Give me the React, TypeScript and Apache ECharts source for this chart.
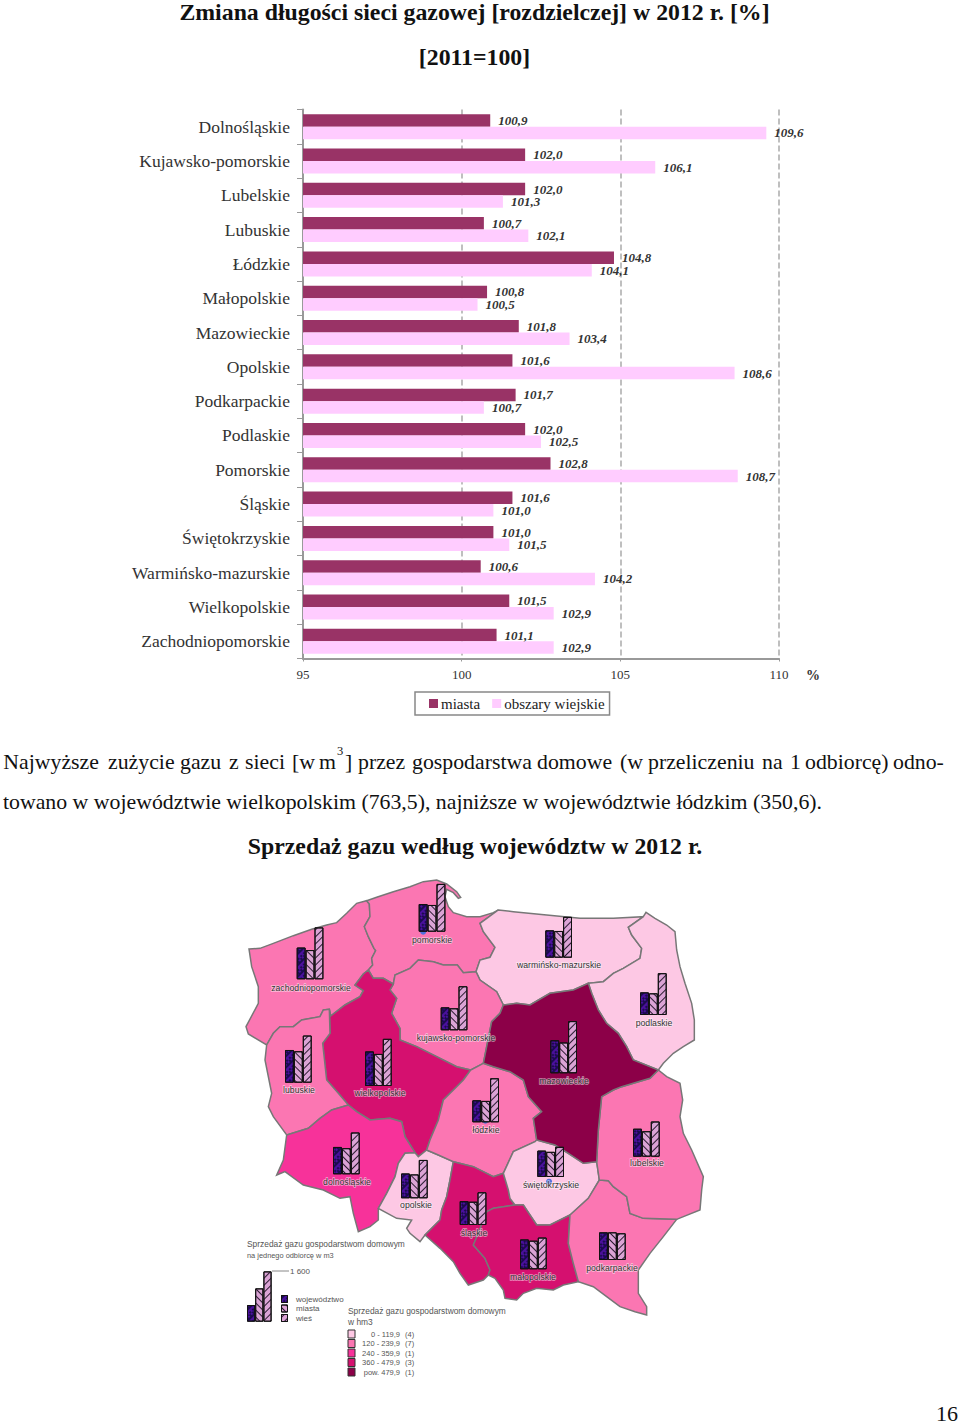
import React, { useEffect, useRef } from "react";
import * as echarts from "echarts";

const SERIF = '"Liberation Serif", serif';
const SANS = '"Liberation Sans", sans-serif';

// ---------- top bar chart ----------
const voivodeships = ["Dolnośląskie","Kujawsko-pomorskie","Lubelskie","Lubuskie","Łódzkie","Małopolskie","Mazowieckie","Opolskie","Podkarpackie","Podlaskie","Pomorskie","Śląskie","Świętokrzyskie","Warmińsko-mazurskie","Wielkopolskie","Zachodniopomorskie"];
const miasta = [100.9,102.0,102.0,100.7,104.8,100.8,101.8,101.6,101.7,102.0,102.8,101.6,101.0,100.6,101.5,101.1];
const wies = [109.6,106.1,101.3,102.1,104.1,100.5,103.4,108.6,100.7,102.5,108.7,101.0,101.5,104.2,102.9,102.9];

// ---------- justified first line of the paragraph ----------
const lineOneWords = ["Najwyższe","zużycie","gazu","z","sieci","[w","m","]","przez","gospodarstwa","domowe","(w","przeliczeniu","na","1","odbiorcę)","odno-"];
const lineOneX = [3.3,108,180,229,245,292,319,345,358,412,537,620,648,762,790,805,893];

// ---------- map: class of gas sales in hm3 (index into classColors) ----------
const classColors = ["#fdc8e4","#fb76b2","#f7329a","#d5106f","#8c0048"];
const classLabels = ["0 - 119,9","120 - 239,9","240 - 359,9","360 - 479,9","pow. 479,9"];
const classCounts = ["(4)","(7)","(1)","(3)","(1)"];
const regionClass: Record<string, number> = {
  "zachodniopomorskie":1,"pomorskie":1,"warmińsko-mazurskie":0,"podlaskie":0,"kujawsko-pomorskie":1,"lubuskie":1,"wielkopolskie":3,"mazowieckie":4,"łódzkie":1,"lubelskie":1,"dolnośląskie":2,"świętokrzyskie":0,"opolskie":0,"śląskie":3,"małopolskie":3,"podkarpackie":1,
};

// mini bars, m3 per customer: [województwo, miasta, wieś]
const miniNames = ["zachodniopomorskie","pomorskie","warmińsko-mazurskie","podlaskie","kujawsko-pomorskie","lubuskie","wielkopolskie","mazowieckie","łódzkie","lubelskie","dolnośląskie","świętokrzyskie","opolskie","śląskie","małopolskie","podkarpackie"];
const miniWoj = [1010,880,870,720,730,1040,1100,1050,700,890,870,840,790,760,950,880];
const miniMiasta = [930,850,850,690,700,1000,1020,980,680,810,830,800,760,740,910,880];
const miniWies = [1650,1520,1300,1330,1400,1500,1500,1660,1400,1120,1330,960,1220,1040,1010,850];
const keyValues = [530,1060,1600];

// page position of each mini chart: [left, baseline]
const miniAnchors = [[296.7,979.3],[418.7,931.7],[545.3,957.7],[640,1015],[440.7,1030.3],[285,1082.7],[365,1086],[550.3,1073.3],[472.3,1122.3],[633,1156.7],[333,1174.3],[537.3,1177],[401,1198.3],[459.7,1225],[520,1269.3],[599,1260]];
// page position of each region name: [centre x, centre y]
const labelAnchors = [[311,988],[432,940],[559,965],[654,1023],[456,1038],[299,1090],[380,1093],[564,1081],[486,1130],[647,1163],[347,1182],[551,1185],[416,1205],[474,1233],[533,1277],[612,1268]];

// ---------- map borders, traced (in units of 1/3 px from the map's corner) ----------
type P = number[];
const coastZ: P[] = [[57,237],[90,235],[130,220],[190,197],[245,178],[290,165],[320,158],[350,130],[380,100],[410,92]];
const zpEast: P[] = [[410,92],[418,102],[420,140],[403,170],[415,200],[432,235],[437,242],[425,265],[428,285],[415,300]];
const zWlkp: P[] = [[415,300],[400,312],[375,345],[400,362],[390,380],[345,405],[302,438],[298,418]];
const zLub: P[] = [[298,418],[280,420],[270,440],[215,450],[190,470],[150,470],[130,490],[110,525]];
const zWest: P[] = [[110,525],[55,492],[48,470],[85,400],[85,350],[65,290],[57,237]];
const coastP: P[] = [[410,92],[440,82],[490,65],[540,50],[580,35],[620,30],[650,42],[680,65],[692,82],[685,85],[670,68],[650,58],[645,80],[655,110],[670,128],[710,140],[750,140],[790,128],[805,120]];
const pomWarm: P[] = [[805,120],[750,160],[760,185],[795,232],[780,262],[750,270],[738,305]];
const pomKP: P[] = [[738,305],[700,308],[682,285],[640,285],[610,275],[565,270],[540,295],[495,315],[490,342]];
const pomWlkp: P[] = [[490,342],[460,325],[430,325],[415,300]];
const kpWarm: P[] = [[738,305],[750,330],[800,365],[820,405]];
const kpMaz: P[] = [[820,405],[810,430],[785,455],[770,530],[760,580]];
const kpLodz: P[] = [[760,580],[722,600]];
const kpWlkp: P[] = [[722,600],[680,590],[620,560],[560,530],[510,510],[510,475],[485,430],[500,385],[480,360],[490,342]];
const coastW: P[] = [[805,120],[850,125],[950,135],[1050,145],[1150,145],[1240,140]];
const warmPodl: P[] = [[1240,140],[1195,172],[1205,195],[1235,235],[1230,265],[1180,295],[1150,310],[1120,335],[1075,340]];
const warmMaz: P[] = [[1075,340],[1030,360],[960,370],[900,405],[860,400],[820,405]];
const podlOut: P[] = [[1240,140],[1248,127],[1275,145],[1310,165],[1335,185],[1340,240],[1350,290],[1365,340],[1385,400],[1393,450],[1393,510],[1360,530],[1330,550],[1300,580],[1285,600]];
const podlMaz: P[] = [[1285,600],[1210,570],[1190,530],[1165,490],[1130,460],[1105,420],[1085,370],[1075,340]];
const mazLub: P[] = [[1285,600],[1260,625],[1210,640],[1175,650],[1150,660],[1115,680],[1110,730],[1105,780],[1100,875]];
const mazSwi: P[] = [[1100,875],[1060,880],[1015,850],[975,825],[920,810]];
const mazLodz: P[] = [[920,810],[910,745],[935,725],[895,680],[880,630],[840,605],[790,590],[760,580]];
const lubOut: P[] = [[1285,600],[1310,620],[1350,640],[1358,690],[1350,740],[1360,790],[1385,840],[1420,920],[1415,960],[1410,1020],[1340,1048]];
const lubPodk: P[] = [[1340,1048],[1240,1045],[1200,1030],[1190,980],[1150,950],[1135,932],[1108,930]];
const lubSwi: P[] = [[1108,930],[1100,875]];
const swiPodk: P[] = [[1108,930],[1075,985],[1020,1035]];
const swiMal: P[] = [[1020,1035],[960,1065],[920,1065],[880,1005],[855,1005]];
const swiSl: P[] = [[855,1005],[840,985],[835,960],[820,910]];
const swiLodz: P[] = [[820,910],[850,845],[915,815],[920,810]];
const lodzSl: P[] = [[820,910],[790,920],[730,890],[670,875]];
const lodzOp: P[] = [[670,875],[625,855],[590,840]];
const lodzWlkp: P[] = [[590,840],[600,810],[625,750],[640,690],[680,650],[700,630],[722,600]];
const wlkpOp: P[] = [[590,840],[565,860],[555,848]];
const wlkpDol: P[] = [[555,848],[525,800],[515,755],[480,745],[420,750],[380,725],[355,705]];
const wlkpLub: P[] = [[355,705],[325,670],[290,630],[278,520],[300,490],[298,418]];
const lubDol: P[] = [[355,705],[305,720],[270,745],[235,775],[170,795]];
const lubWest: P[] = [[170,795],[130,740],[115,710],[125,670],[105,570],[110,525]];
const dolOut: P[] = [[170,795],[160,870],[140,915],[165,905],[220,945],[280,960],[330,985],[360,980],[370,1030],[385,1085],[420,1070],[445,1050],[445,1015]];
const dolOp: P[] = [[445,1015],[470,970],[495,920],[505,880],[525,850],[555,848]];
const opOut: P[] = [[445,1015],[500,1045],[545,1050],[530,1075],[540,1090],[570,1115],[585,1095]];
const opSl: P[] = [[585,1095],[630,1050],[635,1020],[650,980],[660,930],[670,875]];
const slOut: P[] = [[585,1095],[630,1135],[670,1175],[690,1210],[715,1245],[760,1230],[775,1215]];
const slMal: P[] = [[775,1215],[780,1200],[765,1165],[730,1125],[745,1090],[770,1025],[790,1015],[855,1005]];
const malOut: P[] = [[775,1215],[795,1225],[820,1260],[825,1285],[860,1290],[880,1270],[920,1255],[970,1260],[1000,1245],[1045,1235]];
const malPodk: P[] = [[1045,1235],[1030,1180],[1015,1120],[1020,1035]];
const podkOut: P[] = [[1340,1048],[1300,1100],[1260,1150],[1225,1200],[1225,1270],[1250,1310],[1250,1335],[1215,1325],[1170,1310],[1130,1280],[1090,1250],[1045,1235]];

const r = (a: P[]) => [...a].reverse();
const ringsByRegion: Record<string, P[][]> = {
  "zachodniopomorskie": [coastZ, zpEast, zWlkp, zLub, zWest],
  "pomorskie": [coastP, pomWarm, pomKP, pomWlkp, r(zpEast)],
  "warmińsko-mazurskie": [coastW, warmPodl, warmMaz, r(kpWarm), r(pomWarm)],
  "podlaskie": [podlOut, podlMaz, r(warmPodl)],
  "kujawsko-pomorskie": [r(pomKP), kpWarm, kpMaz, kpLodz, kpWlkp],
  "wielkopolskie": [r(pomWlkp), r(kpWlkp), r(lodzWlkp), wlkpOp, wlkpDol, wlkpLub, r(zWlkp)],
  "lubuskie": [zLub, r(lubWest), r(lubDol), wlkpLub],
  "dolnośląskie": [dolOut, dolOp, wlkpDol, lubDol],
  "opolskie": [r(dolOp), opOut, opSl, lodzOp, wlkpOp],
  "łódzkie": [kpLodz, r(lodzWlkp), r(lodzOp), r(lodzSl), swiLodz, mazLodz],
  "śląskie": [lodzSl, r(opSl), slOut, slMal, swiSl],
  "świętokrzyskie": [swiPodk, swiMal, swiSl, swiLodz, r(mazSwi), lubSwi],
  "małopolskie": [r(swiMal), r(malPodk), r(malOut), slMal],
  "podkarpackie": [podkOut, malPodk, r(swiPodk), r(lubPodk)],
  "lubelskie": [lubOut, lubPodk, lubSwi, r(mazLub)],
  "mazowieckie": [r(warmMaz), r(podlMaz), mazLub, mazSwi, mazLodz, r(kpMaz)],
};

const geoJson = {
  type: "FeatureCollection",
  features: Object.keys(ringsByRegion).map((name) => {
    const ring = ringsByRegion[name].flat().map((p) => [p[0], -p[1]]);
    ring.push(ring[0]);
    return { type: "Feature", properties: { name }, geometry: { type: "Polygon", coordinates: [ring] } };
  }),
};

const decalWoj = { symbol: "rect", symbolSize: 1, color: "#1c0a50", dashArrayX: [[2, 2], [0, 2, 2]], dashArrayY: [2, 0], rotation: Math.PI / 4 };
const decalMiasta = { symbol: "rect", symbolSize: 1, color: "#2a1a30", dashArrayX: [1, 0], dashArrayY: [1, 3.5], rotation: Math.PI / 4 };
const decalWies = { symbol: "rect", symbolSize: 1, color: "#2a1a30", dashArrayX: [1, 0], dashArrayY: [1, 3.5], rotation: -Math.PI / 4 };
const miniColors = ["#4a109c", "#dba3d5", "#dba3d5"];
const miniDecals = [decalWoj, decalMiasta, decalWies];
const miniSeriesNames = ["województwo", "miasta", "wieś"];

const UNITS_PER_PX = 31.8;
const MINI_MAX = 1700;

function text(t: string, x: number, y: number, size: number, o: any = {}) {
  return {
    type: "text", x, y, z: 20, silent: true,
    style: { text: t, fill: o.fill ?? "#111", font: `${o.weight ?? "normal"} ${size}px ${o.family ?? SERIF}`, align: o.align ?? "left", verticalAlign: "middle", ...(o.style ?? {}) },
  };
}

export default function App() {
  const ref = useRef<HTMLDivElement>(null);
  useEffect(() => {
    echarts.registerMap("pl", geoJson as any);
    const chart = echarts.init(ref.current!, undefined, { renderer: "svg" });

    const grids: any[] = [{ left: 303, top: 109.5, width: 476, height: 549 }];
    const xAxes: any[] = [{
      gridIndex: 0, type: "value", min: 95, max: 110, interval: 5, position: "bottom",
      axisLine: { show: true, lineStyle: { color: "#999", width: 2 } },
      axisTick: { show: true, length: 3, lineStyle: { color: "#999" } },
      axisLabel: { fontFamily: SERIF, fontSize: 13, color: "#333", margin: 9 },
      splitLine: { show: true, lineStyle: { color: "#aaa", type: "dashed", width: 1.5 } },
    }];
    const yAxes: any[] = [{
      gridIndex: 0, type: "category", inverse: true, data: voivodeships,
      axisLine: { show: true, lineStyle: { color: "#999", width: 2 } },
      axisTick: { show: true, length: 6, lineStyle: { color: "#999" } },
      axisLabel: { fontFamily: SERIF, fontSize: 17.5, color: "#333", margin: 13 },
      splitLine: { show: false },
    }];
    const fmt = (p: any) => Number(p.value).toFixed(1).replace(".", ",");
    const barLabel = { show: true, position: "right", distance: 8, formatter: fmt, fontFamily: SERIF, fontSize: 13, fontStyle: "italic", fontWeight: "bold", color: "#333" };
    const series: any[] = [
      { type: "bar", name: "miasta", data: miasta, xAxisIndex: 0, yAxisIndex: 0, barWidth: 12.5, barGap: 0, itemStyle: { color: "#993366" }, label: barLabel, silent: true },
      { type: "bar", name: "obszary wiejskie", data: wies, xAxisIndex: 0, yAxisIndex: 0, barWidth: 12.5, barGap: 0, itemStyle: { color: "#ffccff" }, label: barLabel, silent: true },
      {
        type: "map", map: "pl", silent: true, aspectScale: 1,
        left: 230, top: 870, width: 490, height: 520,
        boundingCoords: [[0, 0], [1470, -1560]], roam: false,
        label: { show: false },
        itemStyle: { borderColor: "#777", borderWidth: 1.5 },
        emphasis: { disabled: true }, select: { disabled: true },
        data: Object.keys(regionClass).map((name) => ({ name, value: regionClass[name], itemStyle: { areaColor: classColors[regionClass[name]] } })),
      },
    ];

    const addMini = (left: number, base: number, values: number[], max: number, hgt: number, barW: number, kinds: number[]) => {
      const gi = grids.length;
      grids.push({ left, top: base - hgt, width: barW * values.length, height: hgt });
      xAxes.push({ gridIndex: gi, type: "category", data: ["a"], show: false });
      yAxes.push({ gridIndex: gi, type: "value", min: 0, max, show: false, splitLine: { show: false } });
      values.forEach((v, i) => {
        series.push({
          type: "bar", name: miniSeriesNames[kinds[i]], data: [v], xAxisIndex: gi, yAxisIndex: gi, silent: true, z: 5,
          barWidth: barW, barGap: 0,
          itemStyle: { color: miniColors[kinds[i]], borderColor: "#111", borderWidth: 1, decal: miniDecals[kinds[i]] },
        });
      });
    };
    const miniH = MINI_MAX / UNITS_PER_PX;
    miniNames.forEach((_, i) => {
      addMini(miniAnchors[i][0], miniAnchors[i][1], [miniWoj[i], miniMiasta[i], miniWies[i]], MINI_MAX, miniH, 8.9, [0, 1, 2]);
    });
    addMini(247, 1321.7, keyValues, MINI_MAX, miniH, 8.2, [0, 1, 2]);
    [1303, 1312.5, 1322].forEach((b, i) => addMini(281, b, [1], 1, 8, 7, [i]));

    const graphic: any[] = [
      text("Zmiana długości sieci gazowej [rozdzielczej] w 2012 r. [%]", 474.5, 11.5, 23.8, { weight: "bold", align: "center" }),
      text("[2011=100]", 474.5, 57, 23.8, { weight: "bold", align: "center" }),
      text("%", 806, 675, 14, { weight: "bold", fill: "#333" }),
      text("3", 337, 751, 12.5),
      text("towano w województwie wielkopolskim (763,5), najniższe w województwie łódzkim (350,6).", 3, 802, 21.8),
      text("Sprzedaż gazu według województw w 2012 r.", 475, 846, 23.8, { weight: "bold", align: "center" }),
      text("16", 936, 1413, 22),
      text("Sprzedaż gazu gospodarstwom domowym", 247, 1244, 8.4, { family: SANS, fill: "#555" }),
      text("na jednego odbiorcę w m3", 247, 1255, 7.4, { family: SANS, fill: "#555" }),
      text("1 600", 290, 1271, 8, { family: SANS, fill: "#555" }),
      { type: "line", z: 20, silent: true, shape: { x1: 272, y1: 1271, x2: 289, y2: 1271 }, style: { stroke: "#888", lineWidth: 1 } },
      text("województwo", 296, 1299, 8, { family: SANS, fill: "#555" }),
      text("miasta", 296, 1308.5, 8, { family: SANS, fill: "#555" }),
      text("wieś", 296, 1318, 8, { family: SANS, fill: "#555" }),
      text("Sprzedaż gazu gospodarstwom domowym", 348, 1310.5, 8.4, { family: SANS, fill: "#555" }),
      text("w hm3", 348, 1322, 8.4, { family: SANS, fill: "#555" }),
    ];
    lineOneWords.forEach((w, i) => graphic.push(text(w, lineOneX[i], 762, 21.8)));
    classLabels.forEach((lab, i) => {
      const y = 1334 + i * 9.5;
      graphic.push({ type: "rect", z: 20, silent: true, shape: { x: 348, y: y - 4, width: 7, height: 8 }, style: { fill: classColors[i], stroke: "#333", lineWidth: 1 } });
      graphic.push(text(lab, 400, y, 7.5, { family: SANS, fill: "#555", align: "right" }));
      graphic.push(text(classCounts[i], 405, y, 7.5, { family: SANS, fill: "#555" }));
    });
    miniNames.forEach((name, i) => {
      graphic.push(text(name, labelAnchors[i][0], labelAnchors[i][1], 8.7, {
        family: SANS, fill: "#333", align: "center",
        style: { stroke: "rgba(255,255,255,0.55)", lineWidth: 1.5 },
      }));
    });

    chart.setOption({
      animation: false,
      backgroundColor: "#fff",
      legend: {
        data: ["miasta", "obszary wiejskie"],
        left: 415, top: 692, orient: "horizontal",
        padding: [4, 5, 4, 14], itemGap: 12, itemWidth: 9, itemHeight: 9, icon: "rect",
        borderColor: "#888", borderWidth: 1.5, selectedMode: false,
        textStyle: { fontFamily: SERIF, fontSize: 15, color: "#222", padding: [0, 0, 0, -2] },
      },
      grid: grids, xAxis: xAxes, yAxis: yAxes, series, graphic,
    });
    return () => chart.dispose();
  }, []);
  return <div ref={ref} style={{ position: "absolute", left: 0, top: 0, width: 960, height: 1425 }} />;
}
